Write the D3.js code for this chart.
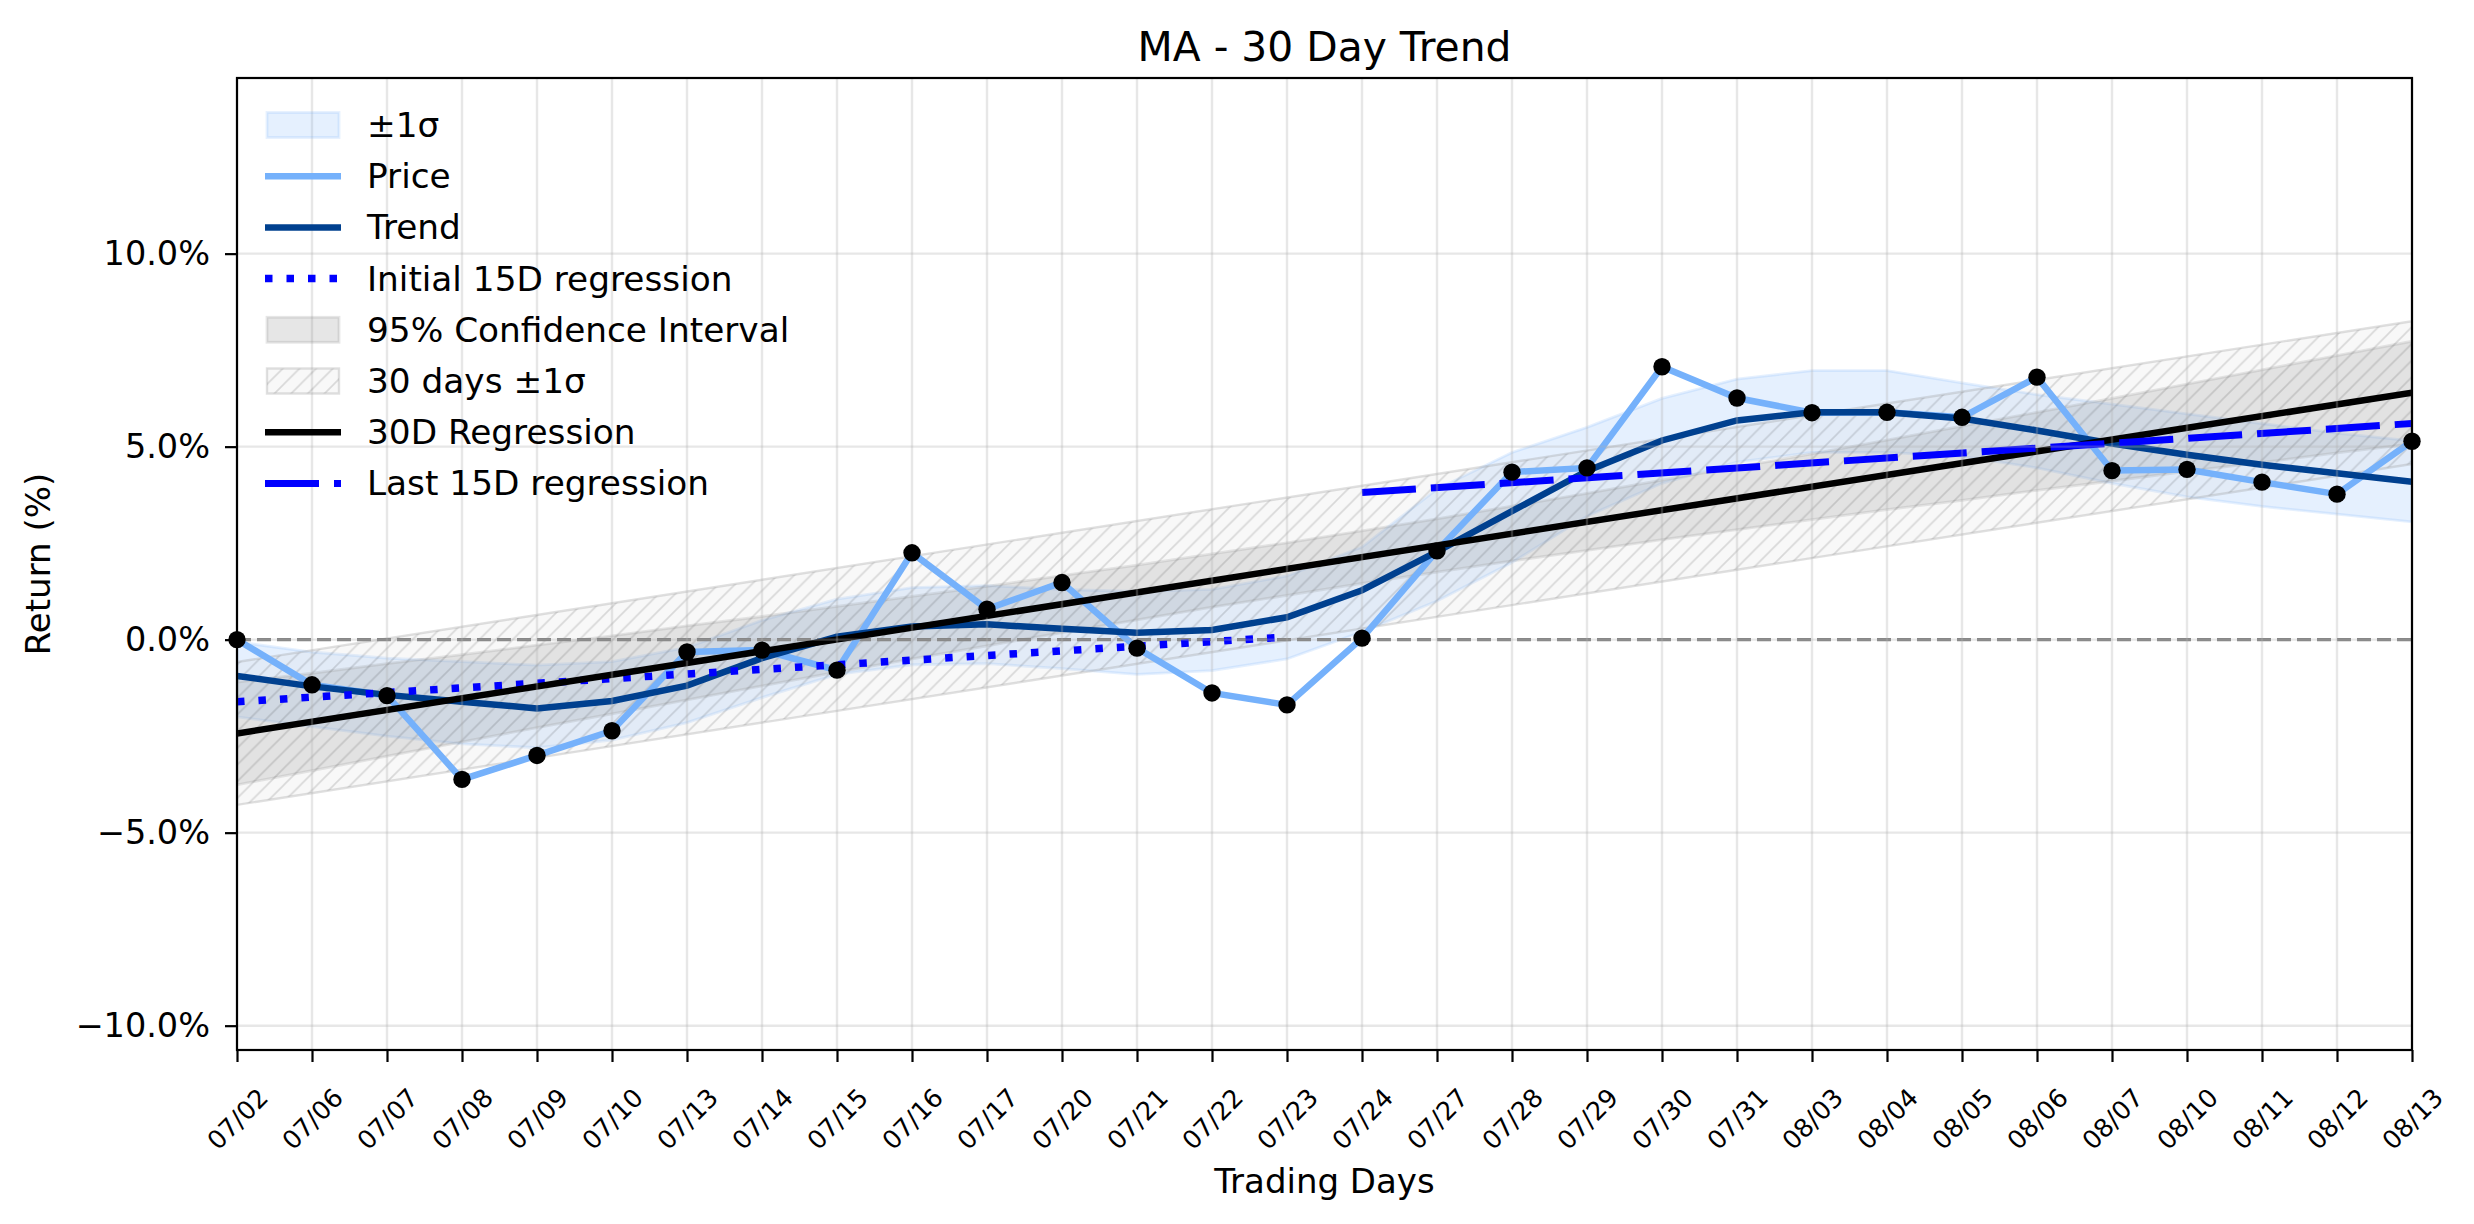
<!DOCTYPE html>
<html>
<head>
<meta charset="utf-8">
<script src="https://cdn.jsdelivr.net/npm/d3@7"></script>
<style>
  html, body { margin: 0; padding: 0; background: #fff; }
  svg { display: block; font-family: "DejaVu Sans", sans-serif; }
</style>
</head>
<body>
<svg id="chart"></svg>
<script>
// Trading days (x categories)
const days = ["07/02","07/06","07/07","07/08","07/09","07/10","07/13","07/14","07/15","07/16",
              "07/17","07/20","07/21","07/22","07/23","07/24","07/27","07/28","07/29","07/30",
              "07/31","08/03","08/04","08/05","08/06","08/07","08/10","08/11","08/12","08/13"];

// Return (%)
const price = [0.00,-1.17,-1.45,-3.62,-3.00,-2.36,-0.32,-0.27,-0.79,2.25,
               0.79,1.48,-0.22,-1.38,-1.69,0.04,2.30,4.34,4.45,7.07,
               6.26,5.88,5.89,5.76,6.80,4.38,4.41,4.08,3.77,5.14];
const trend = [-0.94,-1.21,-1.43,-1.61,-1.78,-1.59,-1.19,-0.48,0.08,0.34,
               0.40,0.28,0.18,0.25,0.58,1.28,2.28,3.33,4.37,5.16,
               5.68,5.89,5.89,5.73,5.42,5.08,4.79,4.53,4.31,4.09];
// ±1σ band edges
const sigmaUpper = [-0.06,-0.32,-0.48,-0.57,-0.66,-0.57,-0.20,0.50,1.05,1.35,
                    1.40,1.30,1.25,1.30,1.65,2.40,3.90,4.85,5.50,6.25,
                    6.75,6.97,6.97,6.65,6.35,6.10,5.85,5.60,5.35,5.15];
const sigmaLower = [-2.00,-2.25,-2.50,-2.70,-2.80,-2.60,-2.15,-1.50,-0.90,-0.65,
                    -0.62,-0.75,-0.90,-0.80,-0.50,0.20,1.00,2.00,3.20,4.05,
                    4.60,4.85,4.85,4.75,4.45,4.05,3.70,3.45,3.25,3.05];
// 95% confidence interval around the 30D regression
const ciUpper = [-1.10,-0.87,-0.62,-0.39,-0.14,0.10,0.36,0.60,0.86,1.12,
                 1.38,1.66,1.93,2.22,2.51,2.82,3.13,3.46,3.79,4.13,
                 4.47,4.81,5.17,5.53,5.89,6.25,6.62,6.99,7.36,7.73];
const ciLower = [-3.76,-3.39,-3.02,-2.65,-2.28,-1.92,-1.56,-1.20,-0.84,-0.50,
                 -0.16,0.18,0.51,0.84,1.15,1.46,1.75,2.04,2.31,2.59,
                 2.85,3.11,3.37,3.61,3.87,4.11,4.36,4.59,4.84,5.07];
// straight lines: [start index, end index] and values at both ends
const reg30Idx = [0, 29],   reg30 = [-2.43, 6.40];
const band30Upper = [-0.58, 8.25], band30Lower = [-4.28, 4.55];
const initIdx = [0, 14],    initReg = [-1.61, 0.07];
const lastIdx = [15, 29],   lastReg = [3.81, 5.60];

const yTicks = [-10, -5, 0, 5, 10];
const yDomain = [-10.63, 14.55];

const legendLabels = ["±1σ", "Price", "Trend", "Initial 15D regression", "95% Confidence Interval",
                      "30 days ±1σ", "30D Regression", "Last 15D regression"];

// Layout
const width = 2474, height = 1224;
const margin = { top: 78, right: 62, bottom: 174, left: 237 };
const plotRight = width - margin.right, plotBottom = height - margin.bottom;

const colPrice = "#75b1fb", colTrend = "#00408f", colReg = "#0000ff";

const svg = d3.select("#chart").attr("width", width).attr("height", height);

const x = d3.scaleLinear().domain([0, days.length - 1]).range([margin.left, plotRight]);
const y = d3.scaleLinear().domain(yDomain).range([plotBottom, margin.top]);

const defs = svg.append("defs");
defs.append("clipPath").attr("id", "plotclip")
    .append("rect")
    .attr("x", margin.left).attr("y", margin.top)
    .attr("width", plotRight - margin.left).attr("height", plotBottom - margin.top);

// hatch pattern "//"
const hs = 16.7;
defs.append("pattern").attr("id", "hatch")
    .attr("patternUnits", "userSpaceOnUse")
    .attr("width", hs).attr("height", hs)
    .append("path")
    .attr("d", `M-2,2 l4,-4 M0,${hs} l${hs},${-hs} M${hs - 2},${hs + 2} l4,-4`)
    .attr("stroke", "#000").attr("stroke-opacity", 0.13).attr("stroke-width", 1.6);

const plot = svg.append("g").attr("clip-path", "url(#plotclip)");

// Bands
const area = (up, lo) => d3.area()
    .x((d, i) => x(i))
    .y0((d, i) => y(lo[i]))
    .y1((d, i) => y(up[i]));

plot.append("path")
    .attr("d", area(sigmaUpper, sigmaLower)(days))
    .attr("fill", colPrice).attr("fill-opacity", 0.19)
    .attr("stroke", colPrice).attr("stroke-opacity", 0.19).attr("stroke-width", 2.8);

plot.append("path")
    .attr("d", area(ciUpper, ciLower)(days))
    .attr("fill", "#808080").attr("fill-opacity", 0.2)
    .attr("stroke", "#808080").attr("stroke-opacity", 0.2).attr("stroke-width", 2.8);

const band30 = d3.area()
    .x((d, k) => x(reg30Idx[k]))
    .y0((d, k) => y(band30Lower[k]))
    .y1((d, k) => y(band30Upper[k]));
plot.append("path")
    .attr("d", band30(reg30Idx))
    .attr("fill", "#d3d3d3").attr("fill-opacity", 0.15);
plot.append("path")
    .attr("d", band30(reg30Idx))
    .attr("fill", "url(#hatch)")
    .attr("stroke", "#999").attr("stroke-opacity", 0.3).attr("stroke-width", 2.4);

// Grid
const grid = svg.append("g");
grid.selectAll(".vg").data(days).enter().append("line")
    .attr("x1", (d, i) => x(i)).attr("x2", (d, i) => x(i))
    .attr("y1", margin.top).attr("y2", plotBottom)
    .attr("stroke", "#b0b0b0").attr("stroke-opacity", 0.3).attr("stroke-width", 2.4);
grid.selectAll(".hg").data(yTicks).enter().append("line")
    .attr("x1", margin.left).attr("x2", plotRight)
    .attr("y1", d => y(d)).attr("y2", d => y(d))
    .attr("stroke", "#b0b0b0").attr("stroke-opacity", 0.3).attr("stroke-width", 2.4);

// Zero line
plot.append("line")
    .attr("x1", margin.left).attr("x2", plotRight)
    .attr("y1", y(0)).attr("y2", y(0))
    .attr("stroke", "#808080").attr("stroke-width", 3.4).attr("stroke-dasharray", "14 6");

// Lines
const line = d3.line().x((d, i) => x(i)).y(d => y(d));
plot.append("path").attr("d", line(price))
    .attr("fill", "none").attr("stroke", colPrice).attr("stroke-width", 6.5);
plot.append("path").attr("d", line(trend))
    .attr("fill", "none").attr("stroke", colTrend).attr("stroke-width", 6.5);

const seg = (idx, vals) => d3.line().x((d, k) => x(idx[k])).y(d => y(d))(vals);
plot.append("path").attr("d", seg(initIdx, initReg))
    .attr("fill", "none").attr("stroke", colReg).attr("stroke-width", 7.5)
    .attr("stroke-dasharray", "7.5 14");
plot.append("path").attr("d", seg(reg30Idx, reg30))
    .attr("fill", "none").attr("stroke", "#000").attr("stroke-width", 6.5);
plot.append("path").attr("d", seg(lastIdx, lastReg))
    .attr("fill", "none").attr("stroke", colReg).attr("stroke-width", 7)
    .attr("stroke-dasharray", "54 15");

// Price markers
svg.append("g").selectAll("circle").data(price).enter().append("circle")
    .attr("cx", (d, i) => x(i)).attr("cy", d => y(d)).attr("r", 8.7)
    .attr("fill", "#000");

// Axes
const yAxis = svg.append("g")
    .attr("transform", `translate(${margin.left},0)`)
    .call(d3.axisLeft(y).tickValues(yTicks).tickSize(12).tickPadding(15)
        .tickFormat(d => (d < 0 ? "\u2212" : "") + Math.abs(d).toFixed(1) + "%"));
yAxis.select(".domain").remove();
yAxis.selectAll("line").attr("stroke-width", 2.2);
yAxis.selectAll("text").attr("font-size", 33.5).attr("font-family", "DejaVu Sans").attr("fill", "#000");

const xAxis = svg.append("g")
    .attr("transform", `translate(0,${plotBottom})`)
    .call(d3.axisBottom(x).tickValues(d3.range(days.length)).tickSize(12)
        .tickFormat(i => days[i]));
xAxis.select(".domain").remove();
xAxis.selectAll("line").attr("stroke-width", 2.2);
xAxis.selectAll("text")
    .attr("y", null).attr("dy", null)
    .attr("font-size", 25.5).attr("font-family", "DejaVu Sans").attr("fill", "#000")
    .attr("text-anchor", "middle").attr("dominant-baseline", "central")
    .attr("transform", "translate(0,69) rotate(-45)");

// Spines
svg.append("rect")
    .attr("x", margin.left).attr("y", margin.top)
    .attr("width", plotRight - margin.left).attr("height", plotBottom - margin.top)
    .attr("fill", "none").attr("stroke", "#000").attr("stroke-width", 2.2);

// Titles
const cx = (margin.left + plotRight) / 2;
svg.append("text").attr("x", cx).attr("y", 61)
    .attr("text-anchor", "middle").attr("font-size", 40.8).text("MA - 30 Day Trend");
svg.append("text").attr("x", cx).attr("y", 1193)
    .attr("text-anchor", "middle").attr("font-size", 34).text("Trading Days");
svg.append("text")
    .attr("transform", `translate(50,${(margin.top + plotBottom) / 2}) rotate(-90)`)
    .attr("text-anchor", "middle").attr("font-size", 34).text("Return (%)");

// Legend
const legend = svg.append("g");
const legY0 = 125, legStep = 51.2, hx0 = 265, hx1 = 341;
const legendStyle = [
    { type: "patch", fill: colPrice, op: 0.19 },
    { type: "line", stroke: colPrice, w: 6.5 },
    { type: "line", stroke: colTrend, w: 6.5 },
    { type: "line", stroke: colReg, w: 7.5, dash: "7.5 14" },
    { type: "patch", fill: "#808080", op: 0.2 },
    { type: "hatch" },
    { type: "line", stroke: "#000", w: 6.5 },
    { type: "line", stroke: colReg, w: 7, dash: "54 15" }
];
legendLabels.forEach((label, i) => {
    const cy = legY0 + i * legStep;
    const s = legendStyle[i];
    if (s.type === "line") {
        legend.append("line")
            .attr("x1", hx0).attr("x2", hx1).attr("y1", cy).attr("y2", cy)
            .attr("stroke", s.stroke).attr("stroke-width", s.w)
            .attr("stroke-dasharray", s.dash || null);
    } else if (s.type === "patch") {
        legend.append("rect")
            .attr("x", 267).attr("y", cy - 12.5).attr("width", 72).attr("height", 25)
            .attr("fill", s.fill).attr("fill-opacity", s.op)
            .attr("stroke", s.fill).attr("stroke-opacity", s.op).attr("stroke-width", 2.8);
    } else {
        legend.append("rect")
            .attr("x", 267).attr("y", cy - 12.5).attr("width", 72).attr("height", 25)
            .attr("fill", "#d3d3d3").attr("fill-opacity", 0.15);
        legend.append("rect")
            .attr("x", 267).attr("y", cy - 12.5).attr("width", 72).attr("height", 25)
            .attr("fill", "url(#hatch)")
            .attr("stroke", "#999").attr("stroke-opacity", 0.3).attr("stroke-width", 2.4);
    }
    legend.append("text")
        .attr("x", 367).attr("y", cy)
        .attr("dominant-baseline", "central")
        .attr("font-size", 34.3).text(label);
});
</script>
</body>
</html>
